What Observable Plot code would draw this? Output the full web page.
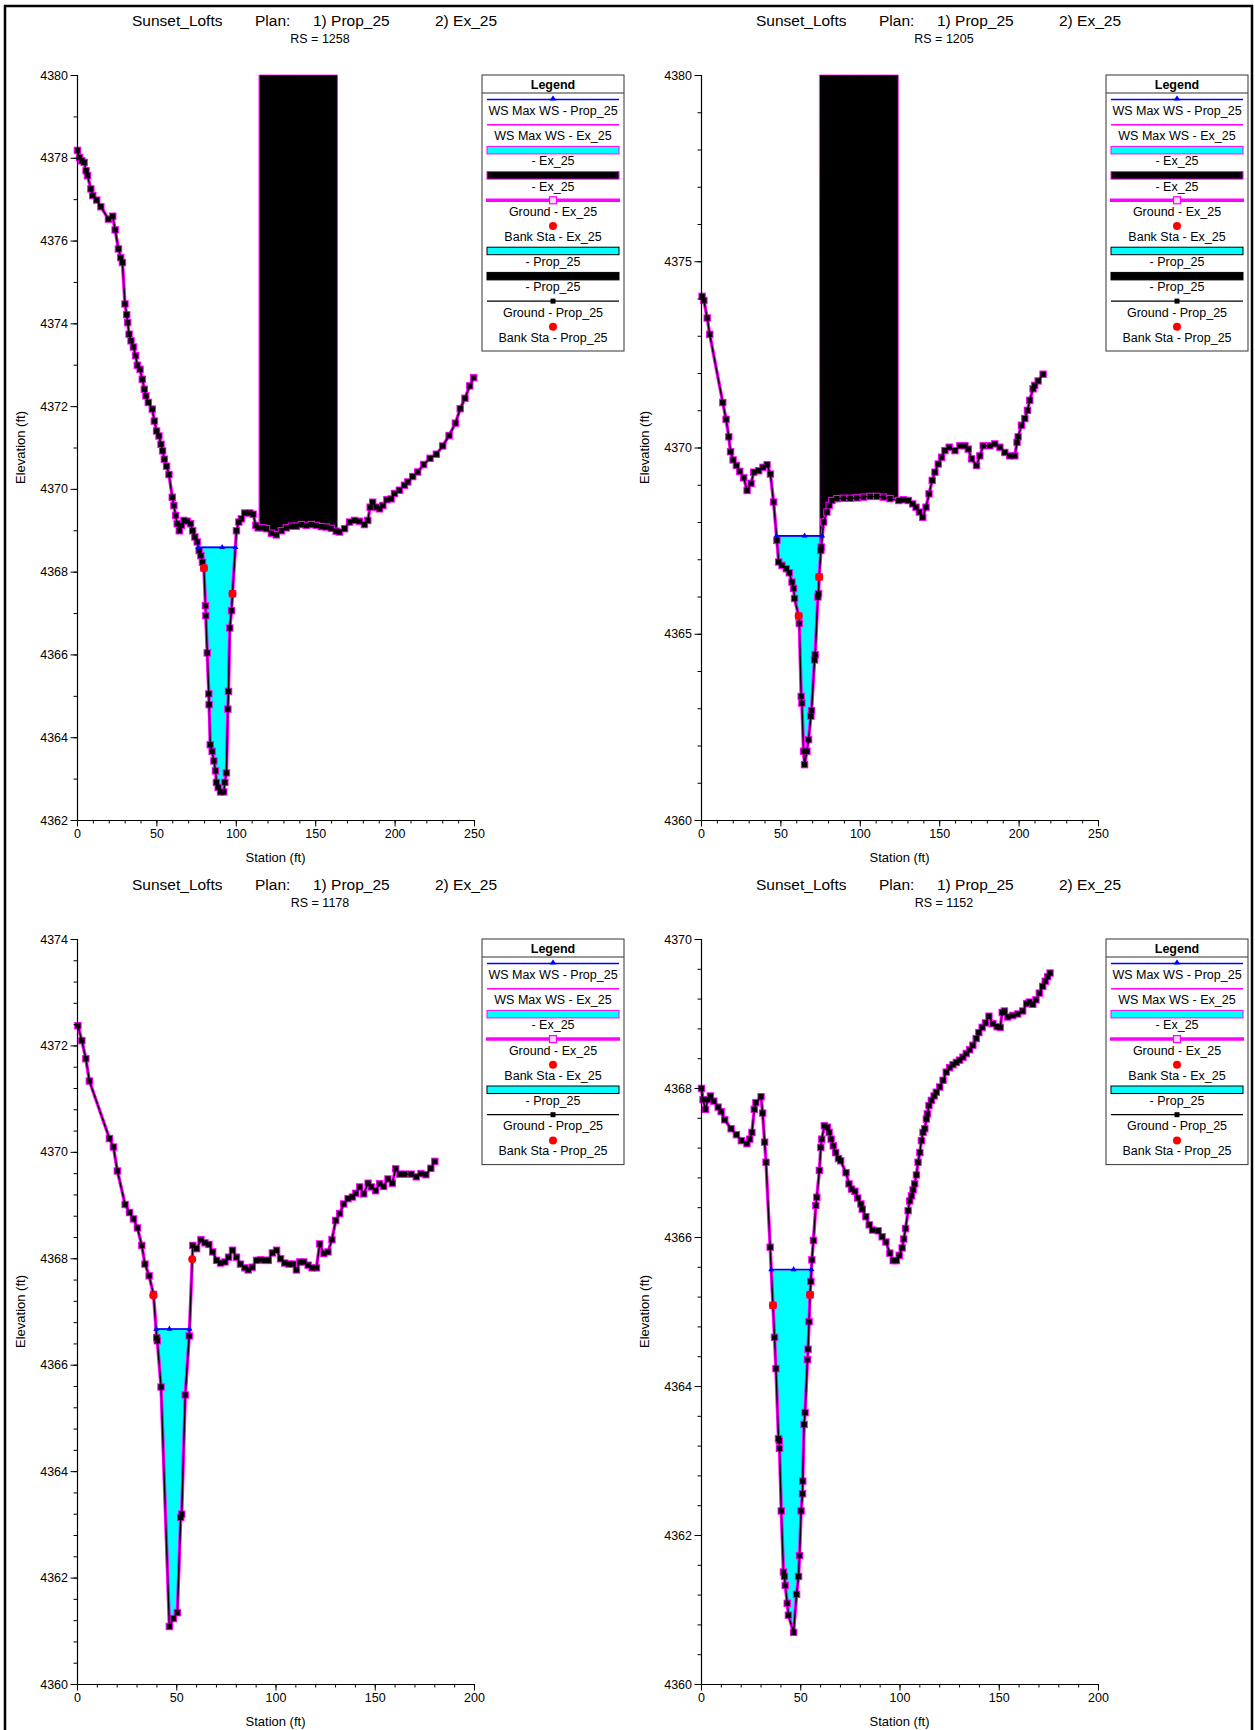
<!DOCTYPE html>
<html><head><meta charset="utf-8">
<script src="https://cdn.jsdelivr.net/npm/d3@7"></script>
<script src="https://cdn.jsdelivr.net/npm/@observablehq/plot@0.6"></script>
<style>
body{margin:0;background:#fff;}
#page{position:relative;width:1255px;height:1730px;overflow:hidden;background:#fff;font-family:"Liberation Sans",Arial,sans-serif;}
.panel{position:absolute;}
#overlay{position:absolute;left:0;top:0;}
</style></head><body><div id="page"></div>
<script>
// ---------------- DATA ----------------
const titleWords = ["Sunset_Lofts", "Plan:", "1) Prop_25", "2) Ex_25"];
const rsLabels = ["RS = 1258", "RS = 1205", "RS = 1178", "RS = 1152"];
const xLabel = "Station (ft)";
const yLabel = "Elevation (ft)";

const sta1258 = [0,1.3,2.7,4.2,5.4,6.3,8.4,9.6,12.1,14.7,19.5,22.2,23.7,25.8,27.2,28.3,29.9,31.0,31.6,32.5,33.7,35.2,36.6,37.7,39.4,40.8,42.1,43.1,44.6,47.1,48.4,49.8,51.3,52.6,53.6,54.7,56.1,57.6,59.7,60.7,61.8,62.8,64.1,65.5,67.0,69.1,71.2,72.5,73.9,75.4,76.6,77.7,78.7,79.6,80.6,80.8,81.7,82.7,82.9,83.6,84.8,85.9,86.9,87.5,88.6,90.1,92.1,92.8,93.8,94.7,95.1,95.9,97.0,97.6,100.1,101.6,103.2,105.3,108.5,110.6,112.3,113.7,116.9,119,122.1,125.2,128.4,131.5,134.7,137.8,140.9,144.1,147.2,150.4,153.5,156.6,159.8,162.9,165.0,168.2,171.3,174.4,177.6,180.7,182.8,184.3,185.9,188.1,190.2,192.3,194.8,197.5,199.6,202.7,205.9,208,211.1,214.2,218,222,226,230,234,238,241,244,247,249.5];
const elev1258 = [4378.19,4378.02,4377.94,4377.9,4377.7,4377.58,4377.26,4377.1,4376.99,4376.83,4376.53,4376.6,4376.27,4375.81,4375.6,4375.48,4374.48,4374.22,4374.03,4373.75,4373.59,4373.44,4373.23,4373.0,4372.9,4372.66,4372.42,4372.26,4372.1,4371.94,4371.65,4371.41,4371.29,4371.09,4370.93,4370.73,4370.56,4370.36,4369.81,4369.61,4369.37,4369.17,4369.0,4369.13,4369.25,4369.23,4369.17,4369.0,4368.85,4368.73,4368.52,4368.4,4368.24,4368.1,4367.19,4366.95,4366.05,4365.06,4364.8,4363.83,4363.67,4363.44,4363.2,4362.92,4362.8,4362.69,4362.69,4362.92,4363.15,4364.69,4365.12,4366.65,4367.07,4367.48,4369.0,4369.21,4369.29,4369.43,4369.43,4369.4,4369.13,4369.07,4369.07,4369.05,4368.94,4368.9,4369.0,4369.07,4369.11,4369.11,4369.15,4369.13,4369.15,4369.13,4369.1,4369.09,4369.06,4368.99,4368.97,4369.05,4369.21,4369.25,4369.23,4369.15,4369.25,4369.57,4369.69,4369.57,4369.53,4369.61,4369.75,4369.77,4369.9,4369.98,4370.1,4370.18,4370.31,4370.42,4370.6,4370.75,4370.85,4371.05,4371.3,4371.6,4371.95,4372.2,4372.5,4372.7];

const sta1205 = [0.4,1.5,3.6,5.2,13.4,15.5,17.2,18.3,19.9,22,24.1,26.6,28.7,31.2,32.9,36,38.7,41.3,43.4,45.4,47.5,48.6,50.7,53.4,55.3,57,58,58.6,61.2,61.6,62.8,63.2,64.3,64.9,66.4,67.4,68.9,69.3,71.2,71.6,73.3,73.7,74.1,75.2,75.4,76.9,79,80.4,82.1,85.2,89.4,93.6,97.8,102,106.2,110.4,114.6,118.7,124.2,127.1,130.3,133,135.1,137.2,139.3,141.4,143.3,145.3,147,149.1,151.2,153.3,156,159.6,162.7,165.9,168,170.1,173.2,175.3,177.4,181.6,184.7,187.9,191,194.1,197.3,198.7,199.4,201.5,203.6,205.3,206.7,208.8,209.8,212,215.1];
const elev1205 = [4374.07,4373.96,4373.49,4373.05,4371.22,4370.77,4370.3,4369.9,4369.68,4369.53,4369.37,4369.2,4368.86,4369.05,4369.35,4369.39,4369.48,4369.55,4369.3,4368.55,4367.52,4366.94,4366.85,4366.76,4366.65,4366.4,4366.23,4365.96,4365.49,4365.29,4363.33,4363.15,4361.86,4361.5,4361.86,4362.17,4362.8,4362.95,4364.31,4364.45,4366.0,4366.09,4366.54,4367.25,4367.34,4368.01,4368.28,4368.46,4368.59,4368.64,4368.65,4368.65,4368.66,4368.68,4368.7,4368.7,4368.68,4368.64,4368.59,4368.61,4368.59,4368.5,4368.41,4368.28,4368.14,4368.41,4368.77,4369.13,4369.35,4369.57,4369.75,4369.93,4370.02,4369.93,4370.06,4370.06,4369.97,4369.71,4369.53,4369.79,4370.06,4370.06,4370.11,4370.02,4369.88,4369.79,4369.79,4370.15,4370.3,4370.61,4370.79,4371.01,4371.28,4371.59,4371.68,4371.8,4371.98];

const sta1178 = [0.2,2.2,4.2,6,16.1,18.1,20.1,24,26.2,28.2,30.2,32.4,34,36.1,38.3,39.9,40.2,42.1,46.3,48.3,50.3,52,52.5,54.3,56.3,58.1,60,62.2,64.2,66.2,68.1,70.1,72.1,74.3,76.1,78.1,80.1,82.1,84.3,86,88,90.2,92.2,94.4,96.1,98.2,100.3,102.3,104.4,106.5,108.6,110.3,112,114,116.2,118.2,120.4,122,124.1,126.2,128.2,130.1,132.1,134.1,136.3,138.5,140.2,142.2,144.2,146.4,148,150.2,152.2,154.2,156.4,158.6,160.3,162.3,164.8,168.1,170.7,173,175.5,178,180];
const elev1178 = [4372.38,4372.1,4371.76,4371.34,4370.26,4370.1,4369.65,4369.02,4368.87,4368.75,4368.58,4368.25,4367.9,4367.68,4367.33,4366.52,4366.46,4365.59,4361.09,4361.24,4361.35,4363.14,4363.2,4365.44,4366.55,4368.25,4368.19,4368.36,4368.3,4368.27,4368.13,4367.97,4367.92,4367.94,4368.03,4368.16,4368.03,4367.9,4367.83,4367.79,4367.84,4367.97,4367.98,4367.97,4367.97,4368.11,4368.16,4368.0,4367.92,4367.9,4367.9,4367.79,4367.94,4367.94,4367.88,4367.83,4367.83,4368.28,4368.1,4368.13,4368.36,4368.72,4368.85,4369.03,4369.13,4369.16,4369.23,4369.35,4369.22,4369.42,4369.35,4369.28,4369.41,4369.36,4369.5,4369.42,4369.69,4369.59,4369.59,4369.59,4369.54,4369.6,4369.58,4369.7,4369.83];

const sta1152 = [0,0.8,2,3.2,4.5,6.2,8.4,9.9,11.7,14.9,17.6,20.1,22.9,24.3,25.4,26.6,27.4,30,30.8,31.8,32.5,34.6,36,36.8,37.5,38.8,39.2,39.3,40.2,41.3,41.8,42.2,43.2,43.8,46.4,47.9,48.9,49.4,50.2,50.9,51,51.7,52.2,53.4,53.7,54.2,54.7,55.1,55.6,56.4,57.6,58.1,59.4,60.1,60.6,61.9,63.4,64.3,65.3,66.4,67.6,69,70.1,72.8,74.3,75.6,77.3,78.7,80.3,81,82.8,84.5,86.2,89,91,92.9,94.9,96.6,98.2,99.6,101.1,101.9,102.8,104.1,104.9,105.8,106.6,107.4,108.3,109.1,110,110.8,111.6,112.5,113.3,113.8,114.6,115.8,117.2,118.3,120,121.7,123.3,125,126.7,128.4,130,131.7,133.4,135.1,136.7,138.4,139.7,141.4,143.1,144.8,146.8,148.9,150.5,151.5,152.6,154.3,156.8,159.3,161.8,163.8,165.2,166.9,168.5,170.2,171.9,173.2,174.4,175.6];
const elev1152 = [4368.0,4367.85,4367.72,4367.85,4367.9,4367.83,4367.75,4367.69,4367.58,4367.46,4367.38,4367.3,4367.26,4367.32,4367.41,4367.72,4367.81,4367.89,4367.67,4367.28,4367.01,4365.87,4365.09,4364.66,4364.24,4363.3,4363.27,4363.17,4362.33,4361.51,4361.45,4361.33,4361.09,4360.93,4360.7,4361.21,4361.45,4361.73,4362.33,4362.56,4362.73,4363.49,4363.65,4364.36,4364.5,4364.87,4365.23,4365.41,4365.7,4365.96,4366.43,4366.54,4366.9,4367.21,4367.32,4367.5,4367.48,4367.41,4367.32,4367.23,4367.14,4367.06,4367.03,4366.87,4366.72,4366.65,4366.62,4366.53,4366.45,4366.38,4366.28,4366.17,4366.1,4366.09,4366.01,4365.94,4365.79,4365.69,4365.69,4365.76,4365.86,4365.98,4366.12,4366.36,4366.49,4366.56,4366.64,4366.72,4366.84,4367.01,4367.14,4367.3,4367.41,4367.46,4367.59,4367.66,4367.77,4367.84,4367.9,4367.95,4368.02,4368.11,4368.22,4368.28,4368.32,4368.35,4368.38,4368.42,4368.47,4368.52,4368.58,4368.67,4368.75,4368.82,4368.88,4368.97,4368.87,4368.83,4368.82,4369.02,4369.04,4368.96,4368.98,4369.0,4369.04,4369.14,4369.16,4369.13,4369.19,4369.28,4369.37,4369.44,4369.5,4369.55];

// water surface (WS Max WS) per section
const wsElev = [4368.6, 4367.64, 4366.68, 4365.57];
const wsLeft = [76.0, 47.2, 39.6, 35.14];
const wsRight = [99.44, 76.0, 56.45, 55.38];
const wsThalweg = [91.1, 64.9, 46.3, 46.4];
// bank stations
const bankLeftSta = [79.6, 61.2, 38.2, 36.0];
const bankLeftElev = [4368.1, 4365.49, 4367.31, 4365.09];
const bankRightSta = [97.6, 74.1, 57.8, 54.7];
const bankRightElev = [4367.48, 4366.54, 4367.99, 4365.23];
// blocked obstructions
const blockLeft = [114.8, 74.8, null, null];
const blockRight = [164.0, 124.2, null, null];
const blockTop = [4380, 4380, null, null];
// axes
const xDomains = [[0, 250], [0, 250], [0, 200], [0, 200]];
const yDomains = [[4362, 4380], [4360, 4380], [4360, 4374], [4360, 4370]];
const xMajorTicks = [[0,50,100,150,200,250],[0,50,100,150,200,250],[0,50,100,150,200],[0,50,100,150,200]];
const yMajorTicks = [[4362,4364,4366,4368,4370,4372,4374,4376,4378,4380],[4360,4365,4370,4375,4380],[4360,4362,4364,4366,4368,4370,4372,4374],[4360,4362,4364,4366,4368,4370]];
const xMinorStep = [10, 10, 10, 10];
const yMinorStep = [1, 1, 0.4, 0.4];

// legend
const legendTop = [
  ["wsProp","WS Max WS - Prop_25"],["wsEx","WS Max WS - Ex_25"],["cyanEx","- Ex_25"],["blackEx","- Ex_25"],
  ["groundEx","Ground - Ex_25"],["bank","Bank Sta - Ex_25"],["cyanProp","- Prop_25"],["blackProp","- Prop_25"],
  ["groundProp","Ground - Prop_25"],["bank","Bank Sta - Prop_25"]];
const legendBottom = [
  ["wsProp","WS Max WS - Prop_25"],["wsEx","WS Max WS - Ex_25"],["cyanEx","- Ex_25"],
  ["groundEx","Ground - Ex_25"],["bank","Bank Sta - Ex_25"],["cyanProp","- Prop_25"],
  ["groundProp","Ground - Prop_25"],["bank","Bank Sta - Prop_25"]];

// ---------------- LAYOUT ----------------
const FONT = "Liberation Sans, Arial, sans-serif";
const PW = 627, PH = 865;
const ML = 77, MR = 153, MT = 75, MB = 45;
const offsets = [[0,0],[624,0],[0,864],[624,864]];
const sections = [[sta1258, elev1258],[sta1205, elev1205],[sta1178, elev1178],[sta1152, elev1152]];
const CYAN = "#00ffff", MAG = "#ff00ff", BLUE = "#0000ff", RED = "#ff0000";

function interpAt(g, s) {
  for (let k = 0; k < g.length - 1; k++) {
    if (g[k].s <= s && g[k+1].s >= s) {
      const t = (s - g[k].s) / (g[k+1].s - g[k].s || 1);
      return g[k].e + t * (g[k+1].e - g[k].e);
    }
  }
  return g[g.length-1].e;
}

const page = document.getElementById("page");

sections.forEach(([sta, elev], i) => {
  const ground = sta.map((s, k) => ({s, e: elev[k]}));
  const ws = wsElev[i];
  const water = [{s: wsLeft[i], e: ws}, ...ground.filter(d => d.s > wsLeft[i] && d.s < wsRight[i]), {s: wsRight[i], e: ws}];
  const marks = [];
  marks.push(Plot.areaY(water, {x: "s", y1: "e", y2: () => ws, fill: CYAN}));
  if (blockLeft[i] != null) {
    const bl = blockLeft[i], br = blockRight[i];
    const blk = [{s: bl, e: interpAt(ground, bl)}, ...ground.filter(d => d.s > bl && d.s < br), {s: br, e: interpAt(ground, br)}];
    marks.push(Plot.areaY(blk, {x: "s", y1: "e", y2: () => blockTop[i], fill: "black", stroke: MAG, strokeWidth: 0.8}));
  }
  const wsLine = [{s: wsLeft[i], e: ws}, {s: wsRight[i], e: ws}];
  const wsPts = [wsLeft[i], wsThalweg[i], wsRight[i]].map(s => ({s, e: ws}));
  const banks = [{s: bankLeftSta[i], e: bankLeftElev[i]}, {s: bankRightSta[i], e: bankRightElev[i]}];
  const [y0, y1] = yDomains[i];
  const [x0, x1] = xDomains[i];
  const yMinor = d3.range(y0, y1 + 1e-6, yMinorStep[i]);
  const xMinor = d3.range(x0, x1 + 1e-6, xMinorStep[i]);
  marks.push(
    Plot.line(ground, {x: "s", y: "e", stroke: MAG, strokeWidth: 3.4}),
    Plot.dot(ground, {x: "s", y: "e", symbol: "square", r: 4.2, fill: MAG, stroke: "none"}),
    Plot.line(ground, {x: "s", y: "e", stroke: "black", strokeWidth: 1.3}),
    Plot.dot(ground, {x: "s", y: "e", symbol: "square", r: 3.0, fill: "black", stroke: "none"}),
    Plot.line(wsLine, {x: "s", y: "e", stroke: MAG, strokeWidth: 1.2}),
    Plot.line(wsLine, {x: "s", y: "e", stroke: BLUE, strokeWidth: 1.6}),
    Plot.dot(wsPts, {x: "s", y: "e", symbol: "triangle", r: 2.2, fill: BLUE, stroke: "none"}),
    Plot.dot(banks, {x: "s", y: "e", r: 4, fill: RED, stroke: "none"}),
    Plot.ruleX([x0], {stroke: "black", strokeWidth: 1.2}),
    Plot.ruleY([y0], {stroke: "black", strokeWidth: 1.2}),
    Plot.axisY({ticks: yMinor, tickSize: 3.5, tickFormat: () => "", label: null}),
    Plot.axisX({ticks: xMinor, tickSize: 3.5, tickFormat: () => "", label: null}),
    Plot.axisY({ticks: yMajorTicks[i], tickSize: 6.5, tickPadding: 3, tickFormat: d3.format("d"), fontSize: 12.5, label: null}),
    Plot.axisX({ticks: xMajorTicks[i], tickSize: 6.5, tickPadding: 2.5, tickFormat: d3.format("d"), fontSize: 12.5, label: null})
  );
  const chart = Plot.plot({
    width: PW, height: PH,
    marginLeft: ML, marginRight: MR, marginTop: MT, marginBottom: MB,
    x: {domain: xDomains[i]},
    y: {domain: yDomains[i]},
    style: {fontFamily: FONT, fontSize: "12.5px", color: "black", background: "transparent", overflow: "visible"},
    marks
  });
  const div = document.createElement("div");
  div.className = "panel";
  div.style.left = offsets[i][0] + "px";
  div.style.top = offsets[i][1] + "px";
  div.appendChild(chart);
  page.appendChild(div);
});

// ---------------- OVERLAY: titles, axis titles, legends, frame ----------------
const svg = d3.select(page).append("svg").attr("id", "overlay")
  .attr("width", 1255).attr("height", 1730).style("font-family", FONT);

const wordX = [132, 255, 313, 435];
offsets.forEach(([ox, oy], i) => {
  titleWords.forEach((w, k) => {
    svg.append("text").attr("x", ox + wordX[k]).attr("y", oy + 26).attr("font-size", 15.5).attr("fill", "black").text(w);
  });
  svg.append("text").attr("x", ox + 320).attr("y", oy + 43).attr("font-size", 12.5).attr("text-anchor", "middle").attr("fill", "black").text(rsLabels[i]);

  // axis titles
  const plotMidX = ox + ML + (PW - ML - MR) / 2;
  const plotMidY = oy + MT + (PH - MT - MB) / 2;
  svg.append("text").attr("x", plotMidX).attr("y", oy + PH - MB + 42).attr("text-anchor", "middle")
    .attr("font-size", 13).attr("fill", "black").text(xLabel);
  svg.append("text").attr("transform", `translate(${ox + 25},${plotMidY}) rotate(-90)`).attr("text-anchor", "middle")
    .attr("font-size", 13).attr("fill", "black").text(yLabel);

  const entries = i < 2 ? legendTop : legendBottom;
  const lx = ox + 482, ly = oy + 75, lw = 142, headerH = 18, rowH = 25.2;
  const lh = headerH + entries.length * rowH + 6;
  const g = svg.append("g");
  g.append("rect").attr("x", lx).attr("y", ly).attr("width", lw).attr("height", lh).attr("fill", "white").attr("stroke", "#333").attr("stroke-width", 1);
  g.append("line").attr("x1", lx).attr("x2", lx + lw).attr("y1", ly + headerH).attr("y2", ly + headerH).attr("stroke", "#333");
  g.append("text").attr("x", lx + lw / 2).attr("y", ly + 14).attr("text-anchor", "middle").attr("font-weight", "bold").attr("font-size", 12.5).text("Legend");
  const sx0 = lx + 5, sx1 = lx + lw - 5, cx = lx + lw / 2;
  entries.forEach(([type, label], k) => {
    const top = ly + headerH + k * rowH;
    const sy = top + 6.5;
    if (type === "wsProp") {
      g.append("line").attr("x1", sx0).attr("x2", sx1).attr("y1", sy).attr("y2", sy).attr("stroke", BLUE).attr("stroke-width", 1.5);
      g.append("path").attr("d", `M${cx},${sy-4}L${cx+3.5},${sy+1}L${cx-3.5},${sy+1}Z`).attr("fill", BLUE);
    } else if (type === "wsEx") {
      g.append("line").attr("x1", sx0).attr("x2", sx1).attr("y1", sy).attr("y2", sy).attr("stroke", MAG).attr("stroke-width", 1.5);
    } else if (type === "cyanEx" || type === "blackEx" || type === "cyanProp" || type === "blackProp") {
      g.append("rect").attr("x", sx0).attr("y", sy - 3.5).attr("width", sx1 - sx0).attr("height", 7.5)
        .attr("fill", type.startsWith("cyan") ? CYAN : "black")
        .attr("stroke", type.endsWith("Ex") ? MAG : "black").attr("stroke-width", 1);
    } else if (type === "groundEx") {
      g.append("line").attr("x1", sx0 - 1).attr("x2", sx1 + 1).attr("y1", sy).attr("y2", sy).attr("stroke", MAG).attr("stroke-width", 3.5);
      g.append("rect").attr("x", cx - 3.5).attr("y", sy - 3.5).attr("width", 7).attr("height", 7).attr("fill", "#ffd6ff").attr("stroke", MAG).attr("stroke-width", 1.2);
    } else if (type === "groundProp") {
      g.append("line").attr("x1", sx0).attr("x2", sx1).attr("y1", sy).attr("y2", sy).attr("stroke", "black").attr("stroke-width", 1.2);
      g.append("rect").attr("x", cx - 2.5).attr("y", sy - 2.5).attr("width", 5).attr("height", 5).attr("fill", "black");
    } else if (type === "bank") {
      g.append("circle").attr("cx", cx).attr("cy", sy + 0.5).attr("r", 4).attr("fill", RED);
    }
    g.append("text").attr("x", cx).attr("y", top + 22).attr("text-anchor", "middle").attr("font-size", 12.5).attr("fill", "black").text(label);
  });
});

// outer frame (left, top, right edges; bottom runs off the page)
svg.append("path").attr("d", "M5,1732V6H1252V1732").attr("fill", "none").attr("stroke", "black").attr("stroke-width", 2.5);
</script></body></html>
